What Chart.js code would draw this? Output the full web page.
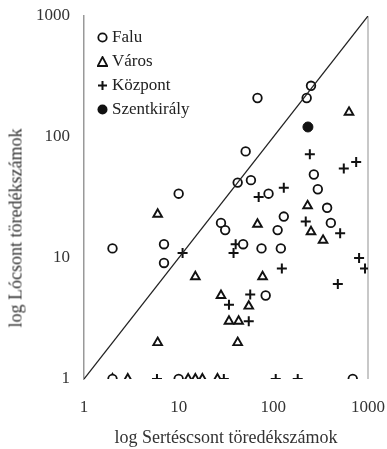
<!DOCTYPE html>
<html>
<head>
<meta charset="utf-8">
<script src="https://cdn.jsdelivr.net/npm/chart.js@4"></script>
<style>
  body { margin: 0; background: #fff; }
  #wrap { position: relative; width: 387px; height: 449px; }
  #legend {
    position: absolute; left: 97px; top: 25px;
    font-family: "Liberation Serif", serif; font-size: 17px; color: #222;
  }
  #legend div { height: 24px; line-height: 24px; display: flex; align-items: center; }
  #legend svg { margin-right: 4px; }
  #ytitle {
    position: absolute; left: 16px; top: 228px; white-space: nowrap;
    font-family: "Liberation Serif", serif; font-size: 18px; color: #333;
    transform: translate(-50%, -50%) rotate(-90deg);
  }
</style>
</head>
<body>
<div id="wrap">
  <canvas id="chart" width="387" height="449"></canvas>
  <div id="ytitle">log Lócsont töredékszámok</div>
  <div id="legend">
    <div><svg width="11" height="11"><circle cx="5.5" cy="5.5" r="4.2" fill="#fff" stroke="#111" stroke-width="1.8"/></svg>Falu</div>
    <div><svg width="11" height="11"><polygon points="5.5,1 10.3,10 0.7,10" fill="#fff" stroke="#111" stroke-width="1.8"/></svg>Város</div>
    <div><svg width="11" height="11"><path d="M5.5 1V10M1 5.5H10" stroke="#111" stroke-width="2"/></svg>Központ</div>
    <div><svg width="11" height="11"><circle cx="5.5" cy="5.5" r="5" fill="#111"/></svg>Szentkirály</div>
  </div>
</div>
<script>
// data (x = sertéscsont, y = lócsont)
const faluX = [2, 7, 7, 10, 68, 250, 225, 51, 42, 58, 28, 31, 89, 268, 295, 370, 129, 111, 405, 120, 75, 48, 83, 2, 10, 690];
const faluY = [12, 13, 9.1, 34, 210, 265, 210, 76, 42, 44, 19.5, 17, 34, 49, 37, 26, 22, 17, 19.5, 12, 12, 13, 4.9, 1, 1, 1];

const varosX = [6, 15, 6, 630, 230, 68, 250, 335, 77, 28, 55, 34, 43, 42, 2, 2.9, 12.6, 15, 17.8, 25.7];
const varosY = [23, 7, 2, 160, 27, 19, 16.5, 14, 7, 4.9, 4, 3, 3, 2, 1, 1, 1, 1, 1, 1];

const kozpontX = [11, 243, 555, 750, 70, 129, 220, 508, 40, 38, 805, 930, 123, 480, 57, 34, 55, 5.9, 30, 106, 181];
const kozpontY = [11, 72, 55, 62, 32, 38, 20, 16, 13, 11, 10, 8.2, 8.2, 6.1, 5, 4.1, 3, 1, 1, 1, 1];

const szentX = [232];
const szentY = [121];

const lineX = [1, 1000];
const lineY = [1, 1000];
const tickValues = [1, 10, 100, 1000];

function pts(xs, ys) {
  return xs.map((x, i) => ({ x: x, y: ys[i] }));
}

const ink = "#111";
const tickFont = { family: "Liberation Serif", size: 17 };

const ctx = document.getElementById("chart").getContext("2d");
new Chart(ctx, {
  type: "scatter",
  data: {
    datasets: [
      {
        label: "y = x",
        data: pts(lineX, lineY),
        showLine: true,
        borderColor: "#222",
        borderWidth: 1.3,
        pointRadius: 0,
      },
      {
        label: "Falu",
        data: pts(faluX, faluY),
        pointStyle: "circle",
        pointRadius: 4.3,
        backgroundColor: "#fff",
        borderColor: ink,
        borderWidth: 1.8,
      },
      {
        label: "Város",
        data: pts(varosX, varosY),
        pointStyle: "triangle",
        pointRadius: 5,
        backgroundColor: "#fff",
        borderColor: ink,
        borderWidth: 1.9,
      },
      {
        label: "Központ",
        data: pts(kozpontX, kozpontY),
        pointStyle: "cross",
        pointRadius: 5,
        borderColor: ink,
        borderWidth: 2,
      },
      {
        label: "Szentkirály",
        data: pts(szentX, szentY),
        pointStyle: "circle",
        pointRadius: 5,
        backgroundColor: ink,
        borderColor: ink,
        borderWidth: 1,
      },
    ],
  },
  options: {
    responsive: false,
    animation: false,
    layout: { padding: { top: 16, right: 19, left: 0, bottom: 0 } },
    plugins: {
      legend: { display: false },
      tooltip: { enabled: false },
    },
    scales: {
      x: {
        type: "logarithmic",
        min: 1,
        max: 1000,
        afterBuildTicks: (scale) => {
          scale.ticks = tickValues.map((v) => ({ value: v }));
        },
        afterFit: (scale) => {
          scale.height = 70;
        },
        border: { display: false },
        grid: {
          // only the right edge (1000) shows a light line
          color: (c) => (c.tick && c.tick.value === 1000 ? "#c8c8c8" : "rgba(0,0,0,0)"),
          tickColor: "rgba(0,0,0,0)",
          lineWidth: 2,
          tickLength: 18,
        },
        ticks: {
          font: tickFont,
          color: "#333",
          padding: 0,
          maxRotation: 0,
          callback: (v) => String(v),
        },
        title: {
          display: true,
          text: "log Sertéscsont töredékszámok",
          font: { family: "Liberation Serif", size: 18 },
          color: "#333",
          padding: { bottom: 0, top: 0 },
        },
      },
      y: {
        type: "logarithmic",
        min: 1,
        max: 1000,
        afterBuildTicks: (scale) => {
          scale.ticks = tickValues.map((v) => ({ value: v }));
        },
        afterFit: (scale) => {
          scale.width = 84;
        },
        border: { display: true, color: "#999", width: 1.5 },
        grid: {
          drawOnChartArea: false,
          color: "rgba(0,0,0,0)",
          tickLength: 14,
        },
        ticks: {
          font: tickFont,
          color: "#333",
          padding: 0,
          callback: (v) => String(v),
        },
      },
    },
  },
});
</script>
</body>
</html>
